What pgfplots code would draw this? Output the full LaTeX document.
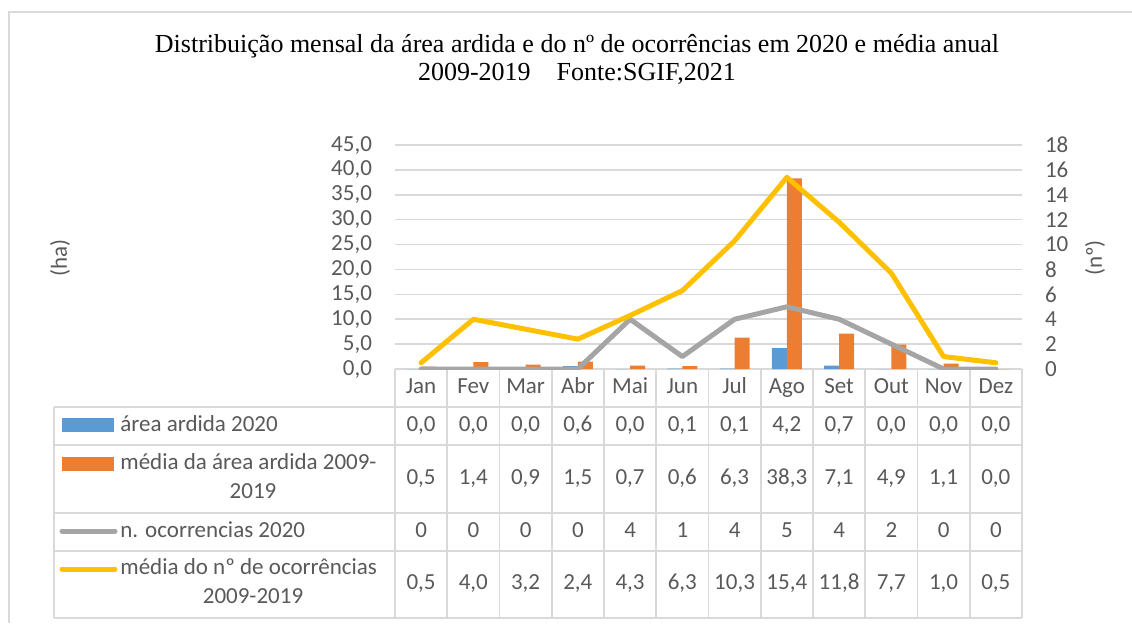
\documentclass[border=0pt]{standalone}
\usepackage{fontspec}
\setmainfont{Carlito}
\newfontfamily\titlefont{Liberation Serif}
\usepackage{pgfplots}
\usepackage{pgfplotstable}
\pgfplotsset{compat=1.18}

\definecolor{barblue}{HTML}{5B9BD5}
\definecolor{barorange}{HTML}{ED7D31}
\definecolor{linegray}{HTML}{A5A5A5}
\definecolor{lineyellow}{HTML}{FFC000}
\definecolor{gridgray}{HTML}{D9D9D9}
\definecolor{txtgray}{HTML}{595959}

% idx = month (0 = Jan)
\pgfplotstableread{
idx area media n nmedia
0  0.0  0.5 0  0.5
1  0.0  1.4 0  4.0
2  0.0  0.9 0  3.2
3  0.6  1.5 0  2.4
4  0.0  0.7 4  4.3
5  0.1  0.6 1  6.3
6  0.1  6.3 4 10.3
7  4.2 38.3 5 15.4
8  0.7  7.1 4 11.8
9  0.0  4.9 2  7.7
10 0.0  1.1 0  1.0
11 0.0  0.0 0  0.5
}\datatable

\newcommand{\tabfont}{\fontsize{11.5}{13.8}\selectfont}

\begin{document}
\begin{tikzpicture}
% everything outside the axes is placed in reference pixels (y down)
\begin{scope}[x=0.5pt,y=-0.5pt]
\path[use as bounding box] (0,0) rectangle (1132,623);
% chart frame
\draw[gridgray, line width=0.8pt] (9,623) -- (9,12) -- (1132,12);

% title
\node[align=center, font=\titlefont\fontsize{13}{14}\selectfont, text=black] at (577,59)
  {Distribuição mensal da área ardida e do nº de ocorrências em 2020 e média anual\\
   2009-2019\hspace{1em}Fonte:SGIF,2021};

% axis titles
\node[rotate=90, text=txtgray, font=\tabfont] at (60,258) {(ha)};
\node[rotate=90, text=txtgray, font=\tabfont] at (1095,258) {(nº)};

% data table grid
\begin{scope}[gridgray, line width=0.8pt]
\draw (395,369) -- (1022,369);
\foreach \y in {407,445,513,551,618} \draw (54,\y) -- (1022,\y);
\draw (54,407) -- (54,618);
\foreach \k in {0,...,12} \draw ({395+52.25*\k},369) -- ({395+52.25*\k},618);
\end{scope}

% legend keys and row names
\fill[barblue] (62,418) rectangle (114,432);
\fill[barorange] (62,457) rectangle (114,471);
\draw[linegray, line width=2.5pt, line cap=round] (62,531) -- (115,531);
\draw[lineyellow, line width=2.5pt, line cap=round] (62,569) -- (115,569);
\begin{scope}[every node/.style={text=txtgray, font=\tabfont, inner sep=0pt, text height=8pt, text depth=2.4pt}]
\node[anchor=west] at (120,426) {área ardida 2020};
\node[anchor=west] at (120,464) {média da área ardida 2009-};
\node at (253,493) {2019};
\node[anchor=west] at (120,532) {n. ocorrencias 2020};
\node[anchor=west] at (120,569) {média do nº de ocorrências};
\node at (253,598) {2009-2019};

\foreach \m [count=\i from 0] in {Jan,Fev,Mar,Abr,Mai,Jun,Jul,Ago,Set,Out,Nov,Dez}{
  \pgfmathsetmacro{\cx}{421.1+52.25*\i}
  \node at (\cx,388) {\m};
  \pgfplotstablegetelem{\i}{area}\of\datatable
  \node at (\cx,426) {\pgfmathprintnumber[fixed,fixed zerofill,precision=1,use comma,assume math mode=true]{\pgfplotsretval}};
  \pgfplotstablegetelem{\i}{media}\of\datatable
  \node at (\cx,479) {\pgfmathprintnumber[fixed,fixed zerofill,precision=1,use comma,assume math mode=true]{\pgfplotsretval}};
  \pgfplotstablegetelem{\i}{n}\of\datatable
  \node at (\cx,532) {\pgfplotsretval};
  \pgfplotstablegetelem{\i}{nmedia}\of\datatable
  \node at (\cx,584) {\pgfmathprintnumber[fixed,fixed zerofill,precision=1,use comma,assume math mode=true]{\pgfplotsretval}};
}
\end{scope}
\end{scope}

% primary axis: bars (ha)
\begin{axis}[
  at={(197.5pt,-184.5pt)}, anchor=south west,
  scale only axis, width=313.5pt, height=112pt,
  xmin=-0.5, xmax=11.5, ymin=0, ymax=45,
  xtick=\empty, ytick={0,5,...,45},
  axis line style={draw=none}, major tick length=0pt,
  ymajorgrids, grid style={gridgray, line width=0.75pt},
  yticklabel style={text=txtgray, font=\tabfont, xshift=-8pt},
  /pgf/number format/.cd, fixed, fixed zerofill, precision=1, use comma, assume math mode=true,
]
\addplot[ybar, bar width=7.5pt, bar shift=-3.75pt, fill=barblue, draw=none] table[x=idx,y=area]{\datatable};
\addplot[ybar, bar width=7.5pt, bar shift=3.75pt, fill=barorange, draw=none] table[x=idx,y=media]{\datatable};
\end{axis}

% secondary axis: lines (nº)
\begin{axis}[
  at={(197.5pt,-184.5pt)}, anchor=south west,
  scale only axis, width=313.5pt, height=112pt,
  xmin=-0.5, xmax=11.5, ymin=0, ymax=18,
  axis y line*=right, axis x line=none,
  xtick=\empty, ytick={0,2,...,18},
  axis line style={draw=none}, major tick length=0pt,
  yticklabel style={text=txtgray, font=\tabfont, anchor=west, xshift=8pt},
  /pgf/number format/assume math mode=true,
]
\addplot[linegray, line width=2.5pt, line join=round, line cap=round] table[x=idx,y=n]{\datatable};
\addplot[lineyellow, line width=2.5pt, line join=round, line cap=round] table[x=idx,y=nmedia]{\datatable};
\end{axis}
\end{tikzpicture}
\end{document}
